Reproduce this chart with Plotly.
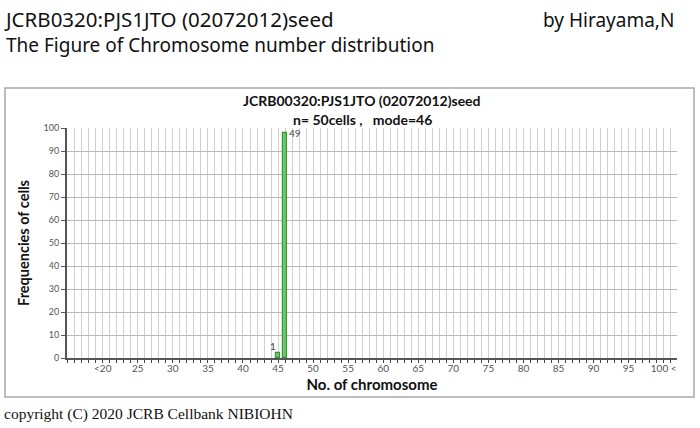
import plotly.graph_objects as go

# ---- data ----
chromosome_numbers = [45, 46]
cell_counts = [1, 49]
n_cells = 50
mode_number = 46
tick_values = [20, 25, 30, 35, 40, 45, 50, 55, 60, 65, 70, 75, 80, 85, 90, 95, 100]
tick_text = ["<20", "25", "30", "35", "40", "45", "50", "55", "60", "65", "70", "75", "80", "85", "90", "95", "100 <"]
y_ticks = [0, 10, 20, 30, 40, 50, 60, 70, 80, 90, 100]

percent = [c / n_cells * 100 for c in cell_counts]

W, H = 700, 428
# plot area in screen pixels: x 67..677, y 128..358
SL, SR, ST, SB = 67, 677, 128, 358
L, T = SL, ST
R, B = W - SR, H - SB
pw, ph = SR - SL, SB - ST


def px(x):
    return (x - SL) / pw


def py(y):
    return (SB - y) / ph


fig = go.Figure()
fig.add_bar(
    x=chromosome_numbers, y=percent, width=0.45,
    marker=dict(color="#72c872", line=dict(color="#2f9a2f", width=1.2)),
    hoverinfo="skip",
)

ann = []
for xv, yv, cv in zip(chromosome_numbers, percent, cell_counts):
    if cv == max(cell_counts):
        ann.append(dict(x=xv, y=yv, xref="x", yref="y", text=str(cv), showarrow=False,
                        xanchor="left", yanchor="middle", xshift=2,
                        font=dict(family="Lato", size=10, color="#444")))
    else:
        ann.append(dict(x=xv, y=yv, xref="x", yref="y", text=str(cv), showarrow=False,
                        xanchor="right", yanchor="bottom", xshift=0, yshift=-1,
                        font=dict(family="Lato", size=10, color="#444")))

ann += [
    dict(x=px(2), y=py(31), xref="paper", yref="paper", xanchor="left", yanchor="middle",
         align="left",
         text=("<span style='font-size:20.5px'>JCRB0320:PJS1JTO (02072012)seed</span>"
               "<br>The Figure of Chromosome number distribution"),
         showarrow=False,
         font=dict(family="Noto Sans", size=19, color="#111")),
    dict(x=px(676), y=py(20), xref="paper", yref="paper", xanchor="right", yanchor="middle",
         text="by Hirayama,N", showarrow=False,
         font=dict(family="Noto Sans", size=19, color="#111")),
    dict(x=px(2), y=py(414), xref="paper", yref="paper", xanchor="left", yanchor="middle",
         text="copyright (C) 2020 JCRB Cellbank NIBIOHN", showarrow=False,
         font=dict(family="Liberation Serif", size=15.5, color="#111")),
    dict(x=px(362), y=py(100), xref="paper", yref="paper", xanchor="center", yanchor="middle",
         text="<b>JCRB00320:PJS1JTO (02072012)seed</b>", showarrow=False,
         font=dict(family="Lato", size=14, color="#111")),
    dict(x=px(362), y=py(119), xref="paper", yref="paper", xanchor="center", yanchor="middle",
         text=f"<b>n= {n_cells}cells ,   mode={mode_number}</b>", showarrow=False,
         font=dict(family="Lato", size=14, color="#111")),
]

fig.update_layout(
    width=W, height=H,
    margin=dict(l=L, r=R, t=T, b=B, pad=0),
    paper_bgcolor="white", plot_bgcolor="white",
    showlegend=False,
    annotations=ann,
    shapes=[dict(type="rect", xref="paper", yref="paper",
                 x0=px(5), x1=px(694), y0=py(397), y1=py(88),
                 line=dict(color="#a8a8a8", width=1.5), layer="below")],
    bargap=0,
)

fig.update_xaxes(
    range=[14.9, 101.9],
    tickmode="array", tickvals=tick_values, ticktext=tick_text,
    ticks="", showgrid=False,
    tickfont=dict(family="Lato", size=10, color="#555"),
    minor=dict(tick0=0, dtick=1, showgrid=True, gridcolor="#d0d0d0", gridwidth=1,
               ticks="outside", ticklen=3, tickcolor="#444"),
    showline=True, linecolor="#555", linewidth=2,
    title=dict(text="<b>No. of chromosome</b>", standoff=6,
               font=dict(family="Lato", size=15, color="#111")),
    zeroline=False,
)
fig.update_yaxes(
    range=[0, 100], tickvals=y_ticks,
    showgrid=True, gridcolor="#b8b8b8", gridwidth=1,
    ticks="outside", ticklen=4, tickcolor="#555",
    tickfont=dict(family="Lato", size=9, color="#555"),
    showline=True, linecolor="#555", linewidth=2,
    title=dict(text="<b>Frequencies of cells</b>", standoff=10,
               font=dict(family="Lato", size=14.5, color="#111")),
    zeroline=False,
)

fig.write_html("out.html", config={"displayModeBar": False},
               post_script="document.body.style.margin='0';")
